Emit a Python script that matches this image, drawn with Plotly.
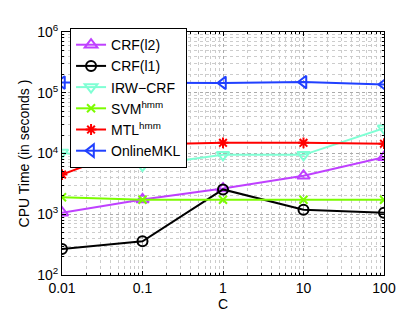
import plotly.graph_objects as go

C = [0.01, 0.1, 1, 10, 100]
crf_l2 = [1060, 1750, 2650, 4300, 8700]
crf_l1 = [267, 359, 2560, 1190, 1060]
irw_crf = [10400, 6300, 9500, 9500, 26000]
svm_hmm = [1900, 1730, 1730, 1730, 1730]
mtl_hmm = [4500, 14000, 15000, 15000, 14500]
online_mkl = [147000, 145000, 145000, 150000, 137000]

x_ticks = [0.01, 0.1, 1, 10, 100]
x_ticktext = ["0.01", "0.1", "1", "10", "100"]
y_ticks = [1e2, 1e3, 1e4, 1e5, 1e6]
y_ticktext = ["10<sup>2</sup>", "10<sup>3</sup>", "10<sup>4</sup>", "10<sup>5</sup>", "10<sup>6</sup>"]

series = [
    ("CRF(l2)", crf_l2, "#BF40FF", "triangle-up-open", 11),
    ("CRF(l1)", crf_l1, "#000000", "circle-open", 10),
    ("IRW\u2212CRF", irw_crf, "#7FFFD4", "triangle-down-open", 11),
    ("SVM<sup>hmm</sup>", svm_hmm, "#7CFC00", "x-thin-open", 8),
    ("MTL<sup>hmm</sup>", mtl_hmm, "#FF0000", "asterisk-open", 9),
    ("OnlineMKL", online_mkl, "#2040FF", "triangle-left-open", 11),
]

fig = go.Figure()
for name, vals, color, sym, size in series:
    fig.add_trace(go.Scatter(
        x=C, y=vals, name=name, mode="lines+markers",
        line=dict(color=color, width=2),
        marker=dict(symbol=sym, size=size, color=color, line=dict(color=color, width=2)),
    ))

axis_common = dict(
    showline=True, linecolor="black", linewidth=1, mirror="ticks",
    ticks="inside", ticklen=4, tickcolor="black",
    showgrid=True, gridcolor="#aaaaaa", griddash="dot", gridwidth=1,
    zeroline=False,
    tickfont=dict(family="Liberation Sans, Arial, sans-serif", size=14, color="black"),
)
minor_common = dict(showgrid=True, dtick="D1", gridcolor="#cccccc", griddash="dot",
                    ticks="inside", ticklen=2, tickcolor="black")

fig.update_xaxes(
    type="log", range=[-2, 2], tickvals=x_ticks, ticktext=x_ticktext,
    title=dict(text="C", font=dict(size=14, color="black"), standoff=2),
    minor=minor_common,
    **axis_common,
)
fig.update_yaxes(
    type="log", range=[2, 6], tickvals=y_ticks, ticktext=y_ticktext,
    title=dict(text="CPU Time (in seconds )", font=dict(size=14, color="black"), standoff=4),
    minor=minor_common,
    **axis_common,
)

fig.update_layout(
    width=415, height=312,
    margin=dict(l=54, r=39, t=24, b=38),
    paper_bgcolor="white", plot_bgcolor="white",
    font=dict(family="Liberation Sans, Arial, sans-serif", size=14, color="black"),
    showlegend=True,
    legend=dict(
        x=0.025, y=1.016, xanchor="left", yanchor="top",
        bgcolor="white", bordercolor="black", borderwidth=1,
        font=dict(size=14), tracegroupgap=0,
    ),
)

fig.write_html("out.html")
